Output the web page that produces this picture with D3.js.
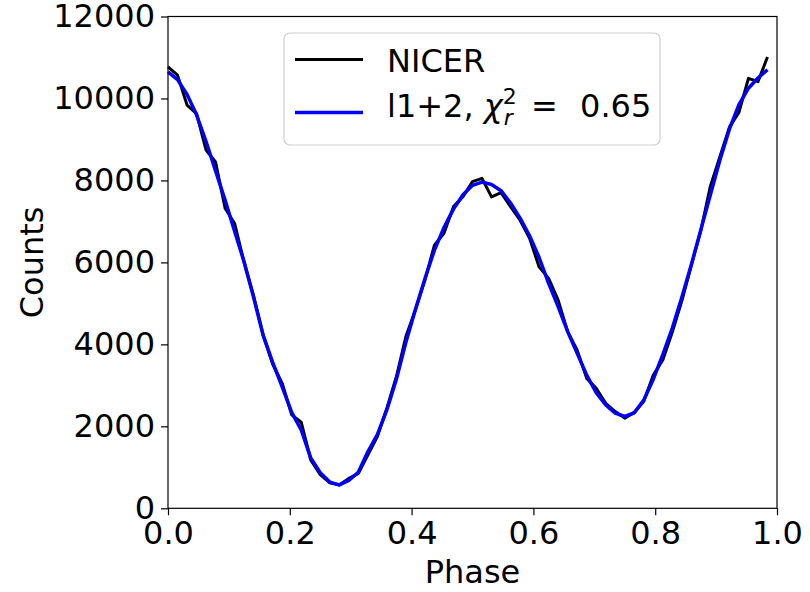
<!DOCTYPE html>
<html>
<head>
<meta charset="utf-8">
<script src="https://cdn.jsdelivr.net/npm/d3@7"></script>
<style>
  body { margin: 0; background: #fff; }
  text { font-family: "DejaVu Sans", sans-serif; fill: #000; white-space: pre; }
</style>
</head>
<body>
<script>
// phase bins (64 per cycle)
const nBins = 64;
const phase = d3.range(nBins).map(k => k / nBins);

// NICER observed counts
const nicer = [
  10770, 10570, 9840, 9630, 8740, 8450, 7320, 6950,
  6000, 5180, 4230, 3520, 3050, 2280, 2100, 1180,
  820, 620, 570, 730, 850, 1300, 1750, 2440,
  3210, 4190, 4840, 5570, 6420, 6710, 7360, 7600,
  7970, 8050, 7600, 7700, 7360, 7030, 6590, 5890,
  5610, 5080, 4310, 3860, 3170, 2930, 2560, 2360,
  2200, 2340, 2610, 3250, 3620, 4300, 5060, 5930,
  6780, 7860, 8580, 9300, 9660, 10490, 10410, 11010
];

// model l1+2
const model = [
  10650, 10460, 10100, 9600, 8950, 8230, 7520, 6760,
  6010, 5140, 4220, 3560, 2960, 2340, 1910, 1230,
  870, 640, 570, 680, 880, 1380, 1800, 2400,
  3150, 4050, 4850, 5600, 6300, 6850, 7300, 7650,
  7880, 7960, 7900, 7750, 7450, 7080, 6650, 6120,
  5490, 4920, 4310, 3780, 3250, 2820, 2520, 2320,
  2240, 2330, 2640, 3150, 3750, 4400, 5150, 5950,
  6800, 7650, 8500, 9250, 9850, 10250, 10500, 10700
];

const xTicks = [0, 0.2, 0.4, 0.6, 0.8, 1.0];
const yTicks = [0, 2000, 4000, 6000, 8000, 10000, 12000];

const width = 810, height = 592;
const margin = { top: 16.5, right: 33, bottom: 83.7, left: 168 };

const svg = d3.select("body").append("svg")
  .attr("width", width)
  .attr("height", height);

const x = d3.scaleLinear()
  .domain([0, 1])
  .range([margin.left, width - margin.right]);

const y = d3.scaleLinear()
  .domain([0, 12000])
  .range([height - margin.bottom, margin.top]);

const xAxis = g => g
  .attr("transform", `translate(0, ${height - margin.bottom})`)
  .call(d3.axisBottom(x).tickValues(xTicks).tickFormat(d3.format(".1f"))
    .tickSize(7).tickPadding(6))
  .call(g => g.select(".domain").remove())
  .call(g => g.selectAll(".tick line").attr("stroke", "#000").attr("stroke-width", 1.2))
  .call(g => g.selectAll(".tick text").attr("font-size", 32).attr("font-family", "DejaVu Sans"));

const yAxis = g => g
  .attr("transform", `translate(${margin.left}, 0)`)
  .call(d3.axisLeft(y).tickValues(yTicks).tickFormat(d3.format("d"))
    .tickSize(7).tickPadding(6))
  .call(g => g.select(".domain").remove())
  .call(g => g.selectAll(".tick line").attr("stroke", "#000").attr("stroke-width", 1.2))
  .call(g => g.selectAll(".tick text").attr("font-size", 32).attr("font-family", "DejaVu Sans"));

svg.append("g").call(xAxis);
svg.append("g").call(yAxis);

const line = d3.line()
  .x((d, i) => x(phase[i]))
  .y(d => y(d));

svg.append("path")
  .datum(nicer)
  .attr("fill", "none")
  .attr("stroke", "#000")
  .attr("stroke-width", 3)
  .attr("stroke-linejoin", "round")
  .attr("d", line);

svg.append("path")
  .datum(model)
  .attr("fill", "none")
  .attr("stroke", "#0000ff")
  .attr("stroke-width", 3.5)
  .attr("stroke-linejoin", "round")
  .attr("d", line);

// frame
svg.append("rect")
  .attr("x", margin.left)
  .attr("y", margin.top)
  .attr("width", width - margin.right - margin.left)
  .attr("height", height - margin.bottom - margin.top)
  .attr("fill", "none")
  .attr("stroke", "#000")
  .attr("stroke-width", 1.2);

// axis labels
svg.append("text")
  .attr("x", (margin.left + width - margin.right) / 2)
  .attr("y", 583)
  .attr("text-anchor", "middle")
  .attr("font-size", 32)
  .text("Phase");

svg.append("text")
  .attr("transform", `translate(43, ${(margin.top + height - margin.bottom) / 2}) rotate(-90)`)
  .attr("text-anchor", "middle")
  .attr("font-size", 32)
  .text("Counts");

// legend
const legend = svg.append("g");
legend.append("rect")
  .attr("x", 284).attr("y", 33)
  .attr("width", 376).attr("height", 112)
  .attr("rx", 6)
  .attr("fill", "#fff").attr("fill-opacity", 0.8)
  .attr("stroke", "#d0d0d0").attr("stroke-width", 1.2);

legend.append("line")
  .attr("x1", 295).attr("x2", 363).attr("y1", 59.5).attr("y2", 59.5)
  .attr("stroke", "#000").attr("stroke-width", 3);
legend.append("text")
  .attr("x", 387).attr("y", 72)
  .attr("font-size", 32)
  .text("NICER");

legend.append("line")
  .attr("x1", 295).attr("x2", 363).attr("y1", 112.5).attr("y2", 112.5)
  .attr("stroke", "#0000ff").attr("stroke-width", 3.5);
const t2 = legend.append("text")
  .attr("x", 387).attr("y", 117)
  .attr("font-size", 32);
t2.append("tspan").text("l1+2, ");
t2.append("tspan").attr("font-style", "italic").text("χ");
t2.append("tspan").attr("font-size", 22).attr("dy", -13).text("2");
t2.append("tspan").attr("font-size", 22).attr("font-style", "italic").attr("dx", -13).attr("dy", 21).text("r");
t2.append("tspan").attr("dy", -8).attr("dx", 8).text(" =  ");
t2.append("tspan").attr("dx", 2).text("0.65");
</script>
</body>
</html>
